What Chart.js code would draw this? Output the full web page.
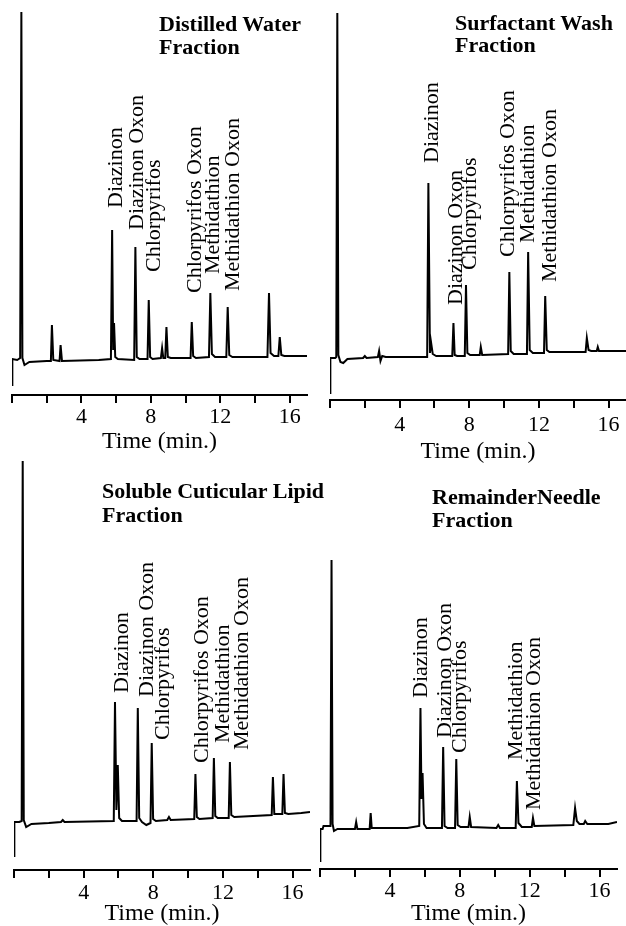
<!DOCTYPE html>
<html>
<head>
<meta charset="utf-8">
<script src="https://cdn.jsdelivr.net/npm/chart.js@4.4.1/dist/chart.umd.min.js"></script>
<style>
  html, body { margin: 0; padding: 0; background: #fff; }
  #fig { position: relative; width: 626px; height: 926px; overflow: hidden; background: #fff; }
  #fig canvas { position: absolute; }
  .title { position: absolute; font: bold 22px "Liberation Serif", "Times New Roman", serif; color: #000; white-space: nowrap; }
</style>
</head>
<body>
<div id="fig">
  <canvas id="c1" width="313" height="470" style="left:0;top:0"></canvas>
  <canvas id="c2" width="313" height="470" style="left:313px;top:0"></canvas>
  <canvas id="c3" width="313" height="466" style="left:0;top:460px"></canvas>
  <canvas id="c4" width="313" height="466" style="left:313px;top:460px"></canvas>
  <div class="title" style="left:159px;top:13px;line-height:22.6px">Distilled Water<br>Fraction</div>
  <div class="title" style="left:455px;top:12px;line-height:21.7px">Surfactant Wash<br>Fraction</div>
  <div class="title" style="left:102px;top:479px;line-height:24px">Soluble Cuticular Lipid<br>Fraction</div>
  <div class="title" style="left:432px;top:485px;line-height:23.3px">RemainderNeedle<br>Fraction</div>
</div>
<script>
// x axis: time in minutes
const tickValues = [0, 2, 4, 6, 8, 10, 12, 14, 16];
const labeledTicks = [4, 8, 12, 16];

// detector traces, [time (min), signal]
const waterTrace = [[0,10],[0.02,36],[0.3,35],[0.47,37],[0.54,383],[0.6,37],[0.72,30],[1.0,33],[2.0,34],[2.24,34],[2.3,70],[2.38,35],[2.74,34],[2.8,50],[2.88,34],[5.0,35],
  [5.7,36],[5.77,165],[5.83,45],[5.88,72],[5.95,38],[6.1,36],[7.04,35],[7.11,148],[7.19,38],[7.35,36],[7.81,36],[7.88,95],[7.96,38],[8.1,36],
  [8.58,37],[8.65,47],[8.72,37],[8.83,37],[8.9,68],[8.98,38],[9.15,37],[10.29,37],[10.36,73],[10.44,39],[10.6,37],[11.35,38],[11.43,102],[11.52,41],[11.7,38],
  [12.35,38],[12.43,88],[12.52,40],[12.7,38],[14.72,38],[14.81,102],[14.9,42],[15.1,39],[15.35,39],[15.43,58],[15.52,40],[15.7,39],[17,39]];
const washTrace = [[0,7],[0.02,42],[0.3,42],[0.36,43],[0.42,387],[0.48,45],[0.6,38],[0.76,37],[1.0,41],[1.9,42],[2.0,44],[2.1,42],[2.75,43],[2.82,49],[2.9,39],[3.0,44],[3.2,43],
  [5.58,43],[5.65,217],[5.74,47],[5.8,58],[5.9,46],[6.1,44],[7.02,44],[7.09,77],[7.16,45],[7.3,44],[7.74,44],[7.81,115],[7.89,47],[8.05,45],
  [8.6,45],[8.66,53],[8.74,45],[10.23,46],[10.3,128],[10.38,49],[10.55,46],[11.31,46],[11.38,148],[11.47,50],[11.65,47],[12.29,47],[12.36,104],[12.45,50],[12.6,48],
  [14.68,48],[14.75,62],[14.85,50],[15.0,49],[15.32,49],[15.38,53],[15.45,49],[17,49]];
const lipidTrace = [[0,14],[0.02,48],[0.3,48],[0.44,49],[0.5,409],[0.56,50],[0.7,43],[1.0,46],[2.0,47],[2.7,48],[2.8,50],[2.9,48],[5.73,49],[5.8,168],[5.88,60],[5.96,105],[6.04,52],[6.2,49],
  [7.04,49],[7.11,162],[7.19,52],[7.35,48],[7.6,45],[7.84,47],[7.91,127],[7.99,51],[8.15,49],[8.8,50],[8.9,53],[9.0,50],
  [10.35,51],[10.42,96],[10.5,53],[10.65,51],[11.41,52],[11.48,112],[11.56,54],[11.7,52],[12.33,52],[12.4,108],[12.48,55],[12.65,53],
  [14.8,55],[14.87,93],[14.95,56],[15.41,56],[15.48,96],[15.56,57],[15.75,56],[16.5,57],[17,58]];
const needleTrace = [[0,8],[0.02,40],[0.15,40],[0.2,43],[0.6,43],[0.66,309],[0.72,45],[0.8,38],[1.0,40],[2.0,40],[2.07,47],[2.14,40],[2.84,40],[2.9,56],[2.96,41],[5.0,41],
  [5.68,43],[5.75,161],[5.81,70],[5.87,96],[5.95,45],[6.1,41],[6.98,41],[7.05,122],[7.13,43],[7.3,41],[7.73,41],[7.8,110],[7.88,44],[8.05,42],
  [8.5,42],[8.57,52],[8.65,42],[10.1,41],[10.2,44],[10.3,41],[11.2,41],[11.27,88],[11.36,46],[11.55,42],[12.12,42],[12.19,51],[12.27,43],
  [14.5,44],[14.6,61],[14.7,48],[14.85,45],[15.1,45],[15.18,48],[15.3,45],[16.5,45],[17,47]];

// peak labels: name, time of label, signal level where the label starts
const sixNames = ['Diazinon', 'Diazinon Oxon', 'Chlorpyrifos', 'Chlorpyrifos Oxon', 'Methidathion', 'Methidathion Oxon'];
const waterLabelT = [6.02, 7.2, 8.17, 10.53, 11.59, 12.74];
const waterLabelS = [187, 165, 123, 102, 121, 104];
const washLabelT = [5.88, 7.24, 8.05, 10.25, 11.4, 12.64];
const washLabelS = [237, 95, 130, 143, 157, 118];
const lipidLabelT = [6.19, 7.63, 8.58, 10.79, 11.99, 13.09];
const lipidLabelS = [177, 173, 130, 107, 127, 120];
const needleNames = ['Diazinon', 'Diazinon Oxon', 'Chlorpyrifos', 'Methidathion', 'Methidathion Oxon'];
const needleLabelT = [5.81, 7.14, 8.03, 11.23, 12.29];
const needleLabelS = [171, 131, 116, 109, 59];

const serif = '"Liberation Serif", "Times New Roman", serif';

const peakLabelPlugin = {
    id: 'peakLabels',
    afterDatasetsDraw(chart, args, opts) {
        const { ctx, scales: { x, y } } = chart;
        ctx.save();
        ctx.fillStyle = '#000';
        ctx.font = '22px ' + serif;
        ctx.textAlign = 'left';
        ctx.textBaseline = 'middle';
        opts.names.forEach((name, i) => {
            ctx.save();
            ctx.translate(x.getPixelForValue(opts.t[i]), y.getPixelForValue(opts.s[i]));
            ctx.rotate(-Math.PI / 2);
            ctx.fillText(name, 0, 0);
            ctx.restore();
        });
        ctx.restore();
    }
};

function drawPanel(id, trace, names, labelT, labelS, cfg) {
    new Chart(document.getElementById(id), {
        type: 'line',
        data: { datasets: [{ data: trace.map(p => ({ x: p[0], y: p[1] })), borderColor: '#000', borderWidth: 2, pointRadius: 0, tension: 0, fill: false }] },
        options: {
            responsive: false,
            animation: false,
            layout: { padding: cfg.pad },
            plugins: { legend: { display: false }, tooltip: { enabled: false }, peakLabels: { names: names, t: labelT, s: labelS } },
            scales: {
                x: {
                    type: 'linear', min: 0, max: 17,
                    afterBuildTicks: s => { s.ticks = tickValues.map(v => ({ value: v })); },
                    afterFit: s => { s.height = cfg.axisH; },
                    ticks: { padding: cfg.tickPad, color: '#000', maxRotation: 0, autoSkip: false, font: { family: serif, size: 22, lineHeight: 1 },
                             callback: v => labeledTicks.includes(v) ? String(v) : '' },
                    grid: { drawOnChartArea: false, tickLength: 8, color: '#000', lineWidth: 2 },
                    border: { color: '#000', width: 2 },
                    title: { display: true, text: 'Time (min.)', color: '#000', font: { family: serif, size: 24, lineHeight: 1 }, padding: { top: 0, bottom: cfg.titlePad } }
                },
                y: { display: false, min: 0, max: cfg.yMax }
            }
        },
        plugins: [peakLabelPlugin]
    });
}

drawPanel('c1', waterTrace, sixNames, waterLabelT, waterLabelS, { pad: { left: 12, right: 6, top: 0, bottom: 16 }, axisH: 59, tickPad: 3, titlePad: 0, yMax: 395 });
drawPanel('c2', washTrace, sixNames, washLabelT, washLabelS, { pad: { left: 17, right: 0, top: 0, bottom: 6 }, axisH: 64, tickPad: 6, titlePad: 0, yMax: 400 });
drawPanel('c3', lipidTrace, sixNames, lipidLabelT, lipidLabelS, { pad: { left: 14, right: 3, top: 0, bottom: 0 }, axisH: 56, tickPad: 4, titlePad: 0, yMax: 410 });
drawPanel('c4', needleTrace, needleNames, needleLabelT, needleLabelS, { pad: { left: 7, right: 9, top: 0, bottom: 0 }, axisH: 57, tickPad: 3, titlePad: 0, yMax: 409 });
</script>
</body>
</html>
